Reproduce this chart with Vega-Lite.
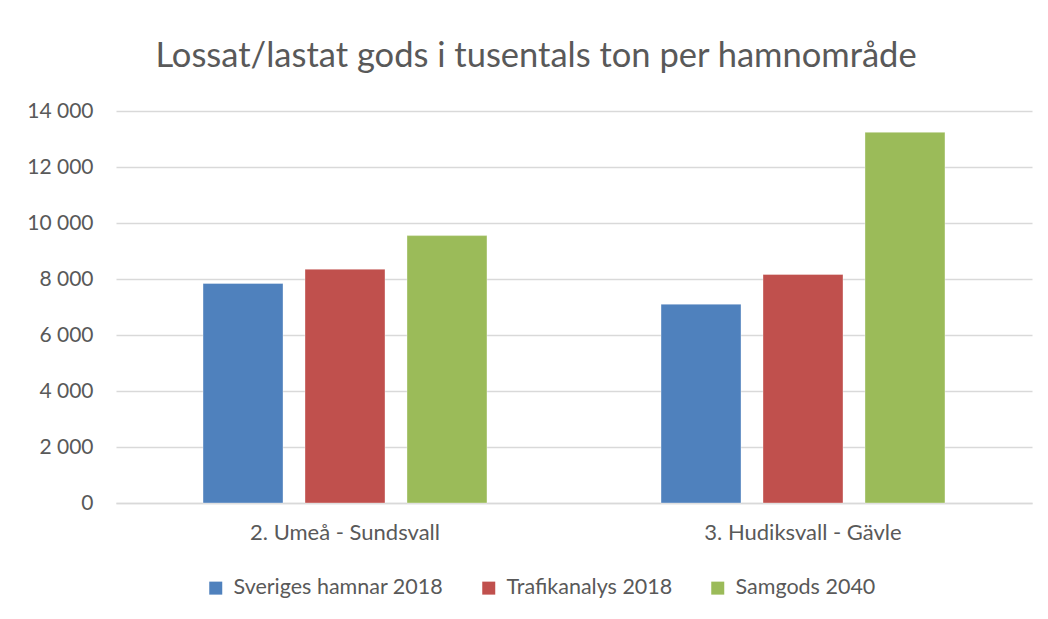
{
  "$schema": "https://vega.github.io/schema/vega-lite/v6.json",
  "autosize": {"type": "none"},
  "width": 916,
  "height": 392,
  "padding": {"left": 116, "top": 111, "right": 16, "bottom": 116},
  "background": "white",
  "title": {
    "text": "Lossat/lastat gods i tusentals ton per hamnområde",
    "font": "Lato",
    "fontSize": 34.5,
    "fontWeight": "normal",
    "color": "#595959",
    "anchor": "middle",
    "frame": "group",
    "dx": -38,
    "dy": 5,
    "baseline": "alphabetic",
    "offset": 4
  },
  "data": {
    "values": [
      {"omrade": "2. Umeå - Sundsvall", "serie": "Sveriges hamnar 2018", "ton": 7840},
      {"omrade": "2. Umeå - Sundsvall", "serie": "Trafikanalys 2018", "ton": 8350},
      {"omrade": "2. Umeå - Sundsvall", "serie": "Samgods 2040", "ton": 9550},
      {"omrade": "3. Hudiksvall - Gävle", "serie": "Sveriges hamnar 2018", "ton": 7100},
      {"omrade": "3. Hudiksvall - Gävle", "serie": "Trafikanalys 2018", "ton": 8160},
      {"omrade": "3. Hudiksvall - Gävle", "serie": "Samgods 2040", "ton": 13240}
    ]
  },
  "mark": {"type": "bar", "stroke": "white", "strokeOpacity": 0.35, "strokeWidth": 1},
  "encoding": {
    "x": {
      "field": "omrade",
      "type": "nominal",
      "sort": null,
      "title": null,
      "scale": {"paddingInner": 0.38, "paddingOuter": 0.19},
      "axis": {
        "labelAngle": 0,
        "labelFont": "Lato",
        "labelFontSize": 22,
        "labelColor": "#595959",
        "labelPadding": 19,
        "labelLimit": 400,
        "ticks": false,
        "domainColor": "#d9d9d9",
        "domainWidth": 1.3
      }
    },
    "xOffset": {
      "field": "serie",
      "type": "nominal",
      "sort": ["Sveriges hamnar 2018", "Trafikanalys 2018", "Samgods 2040"],
      "scale": {"paddingInner": 0.2157, "paddingOuter": 0}
    },
    "y": {
      "field": "ton",
      "type": "quantitative",
      "title": null,
      "scale": {"domain": [0, 14000], "nice": false},
      "axis": {
        "values": [0, 2000, 4000, 6000, 8000, 10000, 12000, 14000],
        "format": ",d",
        "labelFont": "Lato",
        "labelFontSize": 21,
        "labelColor": "#595959",
        "labelPadding": 23,
        "ticks": false,
        "domain": false,
        "gridColor": "#d9d9d9",
        "gridWidth": 1.3
      }
    },
    "color": {
      "field": "serie",
      "type": "nominal",
      "sort": ["Sveriges hamnar 2018", "Trafikanalys 2018", "Samgods 2040"],
      "scale": {
        "domain": ["Sveriges hamnar 2018", "Trafikanalys 2018", "Samgods 2040"],
        "range": ["#4F81BD", "#C0504D", "#9BBB59"]
      },
      "legend": {
        "title": null,
        "orient": "none",
        "direction": "horizontal",
        "legendX": 89,
        "legendY": 466,
        "symbolType": "square",
        "symbolSize": 169,
        "symbolStrokeWidth": 0,
        "symbolOpacity": 1,
        "labelFont": "Lato",
        "labelFontSize": 21.5,
        "labelColor": "#595959",
        "labelOffset": 7,
        "labelLimit": 400,
        "columnPadding": 34
      }
    }
  },
  "config": {
    "view": {"stroke": null},
    "locale": {
      "number": {"decimal": ",", "thousands": " ", "grouping": [3], "currency": ["", " kr"]}
    }
  }
}
